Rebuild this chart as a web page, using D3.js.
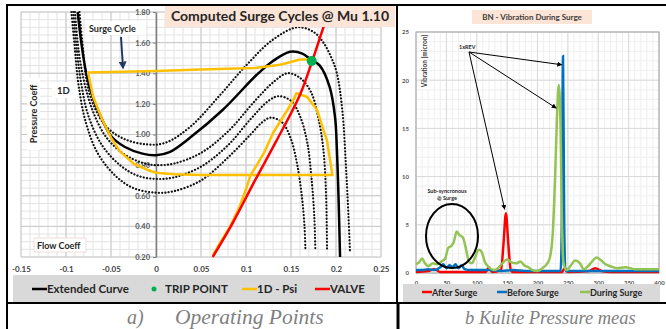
<!DOCTYPE html>
<html>
<head>
<meta charset="utf-8">
<script src="https://cdn.jsdelivr.net/npm/d3@7"></script>
<style>
  body { margin: 0; background: #fff; }
  svg { display: block; }
  text { font-family: Lato, "Open Sans", sans-serif; font-weight: bold; }
  .caption { font-family: "Liberation Serif", "DejaVu Serif", serif; font-style: italic; font-weight: normal; fill: #7f7f7f; }
</style>
</head>
<body>
<svg id="chart" width="666" height="329"></svg>
<script>
// ---- left chart data (flow coeff, pressure coeff) ----
const extendedCurve = [[-0.087,1.80],[-0.083,1.60],[-0.0775,1.40],[-0.07,1.24],[-0.06,1.10],[-0.05,0.99],[-0.035,0.92],[-0.015,0.875],[0,0.865],[0.015,0.885],[0.038,0.98],[0.074,1.16],[0.112,1.39],[0.13,1.48],[0.149,1.54],[0.162,1.53],[0.172,1.49],[0.182,1.45],[0.193,1.31],[0.199,1.11],[0.201,0.90],[0.203,0.55],[0.2045,0.2]];
const dotted1 = [[-0.085,1.80],[-0.081,1.55],[-0.077,1.35],[-0.07,1.20],[-0.055,1.05],[-0.035,0.97],[-0.01,0.935],[0.01,0.945],[0.038,1.05],[0.07,1.25],[0.1,1.45],[0.13,1.62],[0.157,1.70],[0.175,1.67],[0.186,1.60],[0.195,1.50],[0.201,1.40],[0.207,1.16],[0.211,0.8],[0.214,0.45],[0.2155,0.24]];
const dotted2 = [[-0.09,1.80],[-0.086,1.55],[-0.08,1.35],[-0.07,1.15],[-0.055,0.98],[-0.035,0.87],[-0.015,0.815],[0,0.80],[0.02,0.81],[0.05,0.88],[0.08,1.02],[0.11,1.22],[0.13,1.34],[0.146,1.40],[0.16,1.37],[0.172,1.28],[0.18,1.12],[0.186,0.9],[0.189,0.6],[0.19,0.25]];
const dotted3 = [[-0.092,1.80],[-0.088,1.55],[-0.083,1.33],[-0.075,1.12],[-0.06,0.93],[-0.04,0.80],[-0.02,0.73],[0,0.71],[0.02,0.72],[0.05,0.79],[0.08,0.93],[0.105,1.10],[0.125,1.22],[0.136,1.25],[0.15,1.22],[0.16,1.12],[0.168,0.95],[0.173,0.7],[0.176,0.45],[0.177,0.25]];
const dotted4 = [[-0.094,1.80],[-0.09,1.55],[-0.086,1.32],[-0.078,1.08],[-0.065,0.88],[-0.045,0.73],[-0.025,0.65],[0,0.62],[0.02,0.63],[0.05,0.70],[0.08,0.85],[0.105,1.00],[0.118,1.08],[0.127,1.11],[0.14,1.08],[0.15,0.97],[0.157,0.8],[0.162,0.6],[0.165,0.4],[0.166,0.25]];
const psi1D = [[0.173,1.49],[0.16,1.49],[0.138,1.455],[0.11,1.435],[0.05,1.425],[0,1.415],[-0.0755,1.405],[-0.07,1.25],[-0.06,1.10],[-0.05,0.98],[-0.04,0.89],[-0.025,0.81],[-0.01,0.77],[0,0.75],[0.02,0.74],[0.05,0.735],[0.1,0.735],[0.15,0.735],[0.196,0.735],[0.19,0.96],[0.186,1.03],[0.179,1.16],[0.168,1.245],[0.156,1.27],[0.154,1.24],[0.146,1.16],[0.13,1.01],[0.12,0.88],[0.112,0.80],[0.105,0.735],[0.101,0.66],[0.093,0.53],[0.082,0.395],[0.071,0.29],[0.063,0.21]];
const valve = [[0.063,0.2],[0.085,0.42],[0.11,0.7],[0.133,0.95],[0.16,1.26],[0.173,1.47],[0.186,1.70],[0.192,1.80]];
const tripPoint = [0.173,1.48];
const leftXTicks = [-0.15,-0.1,-0.05,0,0.05,0.1,0.15,0.2,0.25];
const leftYTicks = [0.2,0.4,0.6,0.8,1.0,1.2,1.4,1.6,1.8];

// ---- right chart data (frequency, vibration micron) ----
const afterSurge = [[0,0.1],[20,0.2],[30,0.4],[40,0.1],[80,0.1],[115,0.1],[120,0.6],[125,0.1],[140,0.3],[144,3],[148,6.2],[152,3],[156,0.3],[160,0.1],[240,0.1],[245,0.5],[250,0.1],[285,0.2],[295,0.5],[305,0.2],[320,0.1],[400,0.1]];
const beforeSurge = [[0,0.3],[10,0.3],[20,0.4],[30,0.3],[40,0.6],[45,0.9],[50,0.5],[55,0.8],[60,0.6],[65,0.9],[70,0.5],[75,0.8],[80,0.4],[90,0.3],[100,0.3],[120,0.3],[140,0.2],[160,0.3],[180,0.2],[200,0.2],[220,0.2],[238,0.2],[240,5],[242,22.5],[244,5],[246,0.2],[260,0.2],[280,0.2],[300,0.2],[330,0.2],[360,0.2],[400,0.2]];
const duringSurge = [[0,0.9],[5,1.1],[10,1.5],[15,1.0],[20,0.7],[28,1.0],[35,0.9],[42,1.2],[48,1.5],[53,2.6],[58,2.8],[62,3.2],[67,4.3],[72,3.9],[77,3.7],[82,2.6],[87,1.2],[92,1.0],[97,1.6],[103,2.4],[108,2.2],[113,1.2],[120,0.6],[128,0.3],[135,0.5],[142,1.0],[150,1.4],[157,1.1],[165,1.0],[172,1.2],[178,0.8],[185,0.6],[192,0.3],[200,0.2],[208,0.5],[215,0.9],[220,1.5],[225,4],[229,10],[232,16],[235,19.5],[238,15],[240,6],[243,1],[248,0.3],[255,0.8],[262,1.3],[270,1.0],[276,0.4],[283,0.7],[290,1.2],[297,1.6],[305,1.3],[312,0.9],[320,0.7],[330,0.5],[345,0.6],[360,0.4],[380,0.4],[400,0.4]];
const rightXTicks = [0,50,100,150,200,250,300,350,400];
const rightYTicks = [0,5,10,15,20,25];

const svg = d3.select('#chart');

// ================= LEFT CHART =================
const xL = d3.scaleLinear().domain([-0.15,0.25]).range([21,381]);
const yL = d3.scaleLinear().domain([0.2,1.8]).range([257,12]);

const gL = svg.append('g');
// minor grid
gL.selectAll('.vmin').data(d3.range(-150,251,10).map(d => d/1000)).enter().append('line')
  .attr('x1', d => xL(d)).attr('x2', d => xL(d)).attr('y1', yL(1.8)).attr('y2', yL(0.2))
  .attr('stroke', '#e3e3e3').attr('stroke-width', 1);
gL.selectAll('.hmin').data(d3.range(20,181,5).map(d => d/100)).enter().append('line')
  .attr('y1', d => yL(d)).attr('y2', d => yL(d)).attr('x1', xL(-0.15)).attr('x2', xL(0.25))
  .attr('stroke', '#e3e3e3').attr('stroke-width', 1);
// major grid
gL.selectAll('.vmaj').data(leftXTicks).enter().append('line')
  .attr('x1', d => xL(d)).attr('x2', d => xL(d)).attr('y1', yL(1.8)).attr('y2', yL(0.2))
  .attr('stroke', '#c8c8c8').attr('stroke-width', 1);
gL.selectAll('.hmaj').data(leftYTicks).enter().append('line')
  .attr('y1', d => yL(d)).attr('y2', d => yL(d)).attr('x1', xL(-0.15)).attr('x2', xL(0.25))
  .attr('stroke', '#c8c8c8').attr('stroke-width', 1);

// y axis at flow coeff 0
const yAxisL = gL.append('g').attr('transform', `translate(${xL(0)},0)`)
  .call(d3.axisLeft(yL).tickValues(leftYTicks).tickFormat(d3.format('.2f')).tickSize(3).tickSizeOuter(0));
yAxisL.select('.domain').attr('stroke', '#7f7f7f').attr('stroke-width', 1.5);
yAxisL.selectAll('line').attr('stroke', '#7f7f7f');
yAxisL.selectAll('text').attr('font-size', 7.5).attr('fill', '#595959').attr('font-family', 'Lato');

// x labels
const xAxisL = gL.append('g').attr('transform', `translate(0,${yL(0.2) + 6})`)
  .call(d3.axisBottom(xL).tickValues(leftXTicks).tickFormat(d => String(+d.toFixed(2))).tickSize(0));
xAxisL.select('.domain').remove();
xAxisL.selectAll('text').attr('font-size', 8).attr('fill', '#404040').attr('font-family', 'Lato');

const lineL = d3.line().x(d => xL(d[0])).y(d => yL(d[1])).curve(d3.curveCatmullRom.alpha(0.5));
[dotted1, dotted2, dotted3, dotted4].forEach(s => {
  gL.append('path').attr('d', lineL(s)).attr('fill', 'none').attr('stroke', '#111')
    .attr('stroke-width', 2.2).attr('stroke-linecap', 'round').attr('stroke-dasharray', '0.1,3.2');
});
gL.append('path').attr('d', lineL(extendedCurve)).attr('fill', 'none').attr('stroke', '#000').attr('stroke-width', 2.5);
gL.append('path').attr('d', d3.line().x(d => xL(d[0])).y(d => yL(d[1]))(psi1D)).attr('fill', 'none')
  .attr('stroke', '#ffc000').attr('stroke-width', 2.5).attr('stroke-linejoin', 'round');
gL.append('path').attr('d', lineL(valve)).attr('fill', 'none').attr('stroke', '#ff0000').attr('stroke-width', 2.5);
gL.append('circle').attr('cx', xL(tripPoint[0])).attr('cy', yL(tripPoint[1])).attr('r', 5).attr('fill', '#00b050');

// title
gL.append('rect').attr('x', 165).attr('y', 6).attr('width', 230).attr('height', 21).attr('fill', '#fce4d6');
gL.append('text').attr('x', 280).attr('y', 21).attr('text-anchor', 'middle').attr('font-size', 14).attr('fill', '#262626')
  .text('Computed Surge Cycles @ Mu 1.10');

// annotations
gL.append('rect').attr('x', 86).attr('y', 21).attr('width', 60).attr('height', 14).attr('fill', '#fff');
gL.append('text').attr('x', 89).attr('y', 32).attr('font-size', 9).attr('fill', '#262626').text('Surge Cycle');
svg.append('defs').append('marker').attr('id', 'navyHead').attr('viewBox', '0 0 10 10').attr('refX', 8).attr('refY', 5)
  .attr('markerWidth', 4).attr('markerHeight', 4).attr('orient', 'auto')
  .append('path').attr('d', 'M0,0 L10,5 L0,10 z').attr('fill', '#1f3864');
gL.append('line').attr('x1', 121).attr('y1', 37).attr('x2', 123).attr('y2', 68)
  .attr('stroke', '#1f3864').attr('stroke-width', 2).attr('marker-end', 'url(#navyHead)');
gL.append('rect').attr('x', 52).attr('y', 82).attr('width', 25).attr('height', 16).attr('fill', '#fff');
gL.append('text').attr('x', 57).attr('y', 94).attr('font-size', 9.5).attr('fill', '#262626').text('1D');
gL.append('rect').attr('x', 27).attr('y', 78).attr('width', 13).attr('height', 72).attr('fill', '#fff');
gL.append('text').attr('transform', 'translate(37,114) rotate(-90)').attr('text-anchor', 'middle')
  .attr('font-size', 9).attr('fill', '#262626').text('Pressure Coeff');
gL.append('rect').attr('x', 34).attr('y', 238).attr('width', 52).attr('height', 14).attr('fill', '#fff').attr('stroke', '#f2dcdb');
gL.append('text').attr('x', 37).attr('y', 249).attr('font-size', 9).attr('fill', '#262626').text('Flow Coeff');

// legend
gL.append('rect').attr('x', 13).attr('y', 275).attr('width', 367).attr('height', 28).attr('fill', '#d9d9d9');
const legL = [
  { t: 'Extended Curve', c: '#000', x: 32, kind: 'line' },
  { t: 'TRIP POINT', c: '#00b050', x: 154, kind: 'dot' },
  { t: '1D - Psi', c: '#ffc000', x: 242, kind: 'line' },
  { t: 'VALVE', c: '#ff0000', x: 315, kind: 'line' }
];
legL.forEach(d => {
  if (d.kind === 'line') {
    gL.append('line').attr('x1', d.x).attr('x2', d.x + 15).attr('y1', 289).attr('y2', 289).attr('stroke', d.c).attr('stroke-width', 2.5);
    gL.append('text').attr('x', d.x + 15).attr('y', 293).attr('font-size', 11.5).attr('fill', '#262626').text(d.t);
  } else {
    gL.append('circle').attr('cx', d.x).attr('cy', 289).attr('r', 2.5).attr('fill', d.c);
    gL.append('text').attr('x', d.x + 11).attr('y', 293).attr('font-size', 11.5).attr('fill', '#262626').text(d.t);
  }
});

// ================= RIGHT CHART =================
const xR = d3.scaleLinear().domain([0,400]).range([416,659]);
const yR = d3.scaleLinear().domain([0,25]).range([273,32]);
const gR = svg.append('g');

gR.selectAll('.vmin').data(d3.range(0,401,10)).enter().append('line')
  .attr('x1', d => xR(d)).attr('x2', d => xR(d)).attr('y1', yR(25)).attr('y2', yR(0))
  .attr('stroke', '#efefef');
gR.selectAll('.hmin').data(d3.range(0,26,1)).enter().append('line')
  .attr('y1', d => yR(d)).attr('y2', d => yR(d)).attr('x1', xR(0)).attr('x2', xR(400))
  .attr('stroke', '#efefef');
gR.selectAll('.vmaj').data(rightXTicks).enter().append('line')
  .attr('x1', d => xR(d)).attr('x2', d => xR(d)).attr('y1', yR(25)).attr('y2', yR(0))
  .attr('stroke', '#d9d9d9');
gR.selectAll('.hmaj').data(rightYTicks).enter().append('line')
  .attr('y1', d => yR(d)).attr('y2', d => yR(d)).attr('x1', xR(0)).attr('x2', xR(400))
  .attr('stroke', '#d9d9d9');
gR.append('rect').attr('x', xR(0)).attr('y', yR(25)).attr('width', xR(400) - xR(0)).attr('height', yR(0) - yR(25))
  .attr('fill', 'none').attr('stroke', '#a6a6a6');

const yAxisR = gR.append('g').attr('transform', `translate(${xR(0) - 4},0)`)
  .call(d3.axisLeft(yR).tickValues(rightYTicks).tickSize(0));
yAxisR.select('.domain').remove();
yAxisR.selectAll('text').attr('font-size', 6).attr('fill', '#595959').attr('font-family', 'Lato');
const xAxisR = gR.append('g').attr('transform', `translate(0,${yR(0) + 5})`)
  .call(d3.axisBottom(xR).tickValues(rightXTicks).tickSize(0));
xAxisR.select('.domain').remove();
xAxisR.selectAll('text').attr('font-size', 6).attr('fill', '#595959').attr('font-family', 'Lato');

const lineR = d3.line().x(d => xR(d[0])).y(d => yR(d[1])).curve(d3.curveMonotoneX);
gR.append('path').attr('d', lineR(afterSurge)).attr('fill', 'none').attr('stroke', '#ff0000').attr('stroke-width', 2.5);
gR.append('path').attr('d', lineR(beforeSurge)).attr('fill', 'none').attr('stroke', '#0070c0').attr('stroke-width', 2.5);
gR.append('path').attr('d', lineR(duringSurge)).attr('fill', 'none').attr('stroke', '#92c353').attr('stroke-width', 2.5);

// title and axis label
gR.append('rect').attr('x', 472).attr('y', 10).attr('width', 120).attr('height', 14).attr('fill', '#fce4d6');
gR.append('text').attr('x', 532).attr('y', 20).attr('text-anchor', 'middle').attr('font-size', 8).attr('fill', '#404040')
  .text('BN - Vibration During Surge');
gR.append('rect').attr('x', 421).attr('y', 33).attr('width', 8).attr('height', 56).attr('fill', '#fff');
gR.append('text').attr('transform', 'translate(427,61) rotate(-90)').attr('text-anchor', 'middle')
  .attr('font-size', 6.5).attr('fill', '#404040').text('Vibration [micron]');

// annotations
svg.select('defs').append('marker').attr('id', 'blackHead').attr('viewBox', '0 0 10 10').attr('refX', 9).attr('refY', 5)
  .attr('markerWidth', 5).attr('markerHeight', 5).attr('orient', 'auto')
  .append('path').attr('d', 'M0,0 L10,5 L0,10 z').attr('fill', '#000');
gR.append('text').attr('x', 459).attr('y', 49).attr('font-size', 5.5).attr('fill', '#262626').text('1xREV');
[[xR(240), yR(21.6)], [xR(231), yR(17.1)], [xR(146), yR(6.6)]].forEach(p => {
  gR.append('line').attr('x1', 469).attr('y1', 52).attr('x2', p[0]).attr('y2', p[1])
    .attr('stroke', '#000').attr('stroke-width', 1).attr('marker-end', 'url(#blackHead)');
});
gR.append('text').attr('x', 447).attr('y', 193).attr('text-anchor', 'middle').attr('font-size', 5.5).attr('fill', '#262626').text('Sub-syncronous');
gR.append('text').attr('x', 447).attr('y', 200).attr('text-anchor', 'middle').attr('font-size', 5.5).attr('fill', '#262626').text('@ Surge');
gR.append('ellipse').attr('cx', 452).attr('cy', 236).attr('rx', 26).attr('ry', 32)
  .attr('fill', 'none').attr('stroke', '#000').attr('stroke-width', 2);

// legend
gR.append('rect').attr('x', 403).attr('y', 284).attr('width', 257).attr('height', 18).attr('fill', '#d9d9d9');
const legR = [
  { t: 'After Surge', c: '#ff0000', x: 422 },
  { t: 'Before Surge', c: '#0070c0', x: 497 },
  { t: 'During Surge', c: '#92c353', x: 580 }
];
legR.forEach(d => {
  gR.append('line').attr('x1', d.x).attr('x2', d.x + 10).attr('y1', 292).attr('y2', 292).attr('stroke', d.c).attr('stroke-width', 2.5);
  gR.append('text').attr('x', d.x + 10).attr('y', 295.5).attr('font-size', 9).attr('fill', '#262626').text(d.t);
});

// ================= TABLE FRAME + CAPTIONS =================
const frame = svg.append('g').attr('stroke', '#000').attr('stroke-width', 2);
frame.append('line').attr('x1', 6).attr('x2', 666).attr('y1', 5).attr('y2', 5);
frame.append('line').attr('x1', 7).attr('x2', 7).attr('y1', 4).attr('y2', 329);
frame.append('line').attr('x1', 397).attr('x2', 397).attr('y1', 4).attr('y2', 303);
frame.append('line').attr('x1', 398).attr('x2', 398).attr('y1', 303).attr('y2', 329).attr('stroke-width', 3);
frame.append('line').attr('x1', 6).attr('x2', 666).attr('y1', 303).attr('y2', 303);

svg.append('text').attr('class', 'caption').attr('x', 127).attr('y', 324).attr('font-size', 20).text('a)');
svg.append('text').attr('class', 'caption').attr('x', 175).attr('y', 324).attr('font-size', 21.5).text('Operating Points');
svg.append('text').attr('class', 'caption').attr('x', 465).attr('y', 324).attr('font-size', 18.5).text('b Kulite Pressure meas');
</script>
</body>
</html>
